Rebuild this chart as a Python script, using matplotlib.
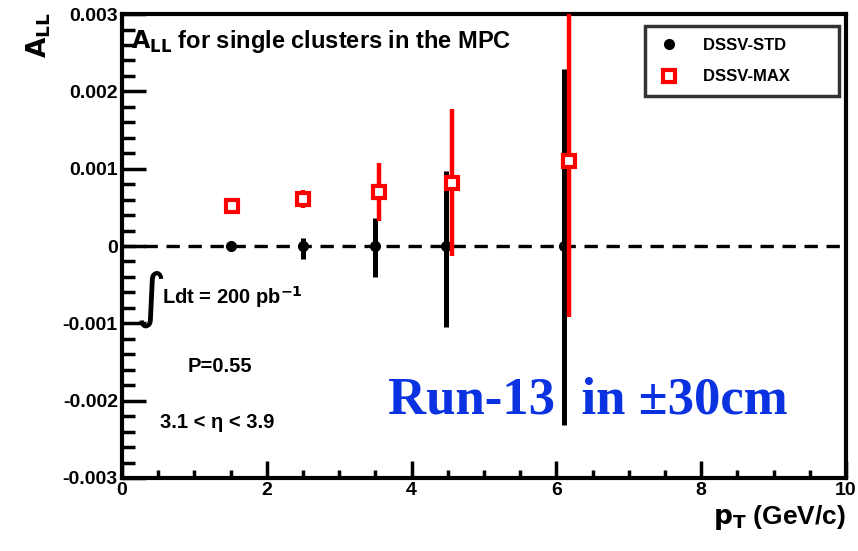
import numpy as np
import matplotlib
matplotlib.use("Agg")
import matplotlib.pyplot as plt
from matplotlib.ticker import MultipleLocator
from matplotlib.lines import Line2D

plt.rcParams['font.family'] = ['Liberation Sans', 'DejaVu Sans']
plt.rcParams['font.weight'] = 'bold'

# dados
pt_std = [1.5, 2.5, 3.5, 4.47, 6.1]
all_std = [0.0, 0.0, 0.0, 0.0, 0.0]
err_std_lo = [0.00002, 0.00017, 0.0004, 0.00105, 0.00232]
err_std_hi = [0.00002, 0.0001, 0.00036, 0.00097, 0.00229]

pt_max = [1.52, 2.5, 3.55, 4.56, 6.17]
all_max = [0.00052, 0.00061, 0.0007, 0.00082, 0.0011]
err_max = [0.00003, 0.00012, 0.00037, 0.00095, 0.00202]

fig = plt.figure(figsize=(8.58, 5.51), dpi=100)
ax = fig.add_axes([0.1422, 0.1325, 0.8438, 0.842])

ax.axhline(0, color='black', lw=2.4, ls=(0, (4, 2.6)), zorder=1)

ax.errorbar(pt_std, all_std, yerr=[err_std_lo, err_std_hi], fmt='o', color='black',
            ms=7, elinewidth=3.6, capsize=0, zorder=3)
ax.errorbar(pt_max, all_max, yerr=err_max, fmt='s', color='red', mfc='white', mec='red',
            ms=9, mew=3, elinewidth=3.2, capsize=0, zorder=4)

ax.set_xlim(0, 10)
ax.set_ylim(-0.003, 0.003)
ax.xaxis.set_minor_locator(MultipleLocator(0.5))
ax.yaxis.set_minor_locator(MultipleLocator(0.0002))
ax.set_yticks([-0.003, -0.002, -0.001, 0, 0.001, 0.002, 0.003])
ax.set_yticklabels(['-0.003', '-0.002', '-0.001', '0', '0.001', '0.002', '0.003'])
ax.set_xticks([0, 2, 4, 6, 8, 10])
ax.set_xticklabels(['0', '2', '4', '6', '8', '10'])

ax.tick_params(axis='both', which='both', direction='in', top=False, right=False,
               labelsize=14)
ax.tick_params(axis='y', which='major', length=17, width=2.5, pad=3)
ax.tick_params(axis='y', which='minor', length=9, width=2.5)
ax.tick_params(axis='x', which='major', length=12, width=2.5, pad=3)
ax.tick_params(axis='x', which='minor', length=6, width=2.5)
for s in ax.spines.values():
    s.set_linewidth(3)

fig.text(0.045, 0.978, r'$\mathbf{A_{LL}}$', rotation=90, fontsize=19, ha='center', va='top')
fig.text(0.986, 0.035, r'$\mathbf{p_{T}}$ (GeV/c)', fontsize=19, ha='right', va='bottom')

ax.text(0.013, 0.94, r'$\mathbf{A_{LL}}$ for single clusters in the MPC', transform=ax.transAxes,
        fontsize=17, ha='left', va='center')
ax.text(0.018, 0.385, r'$\int$', transform=ax.transAxes, fontsize=30, ha='left', va='center',
        fontweight='normal')
ax.text(0.055, 0.39, r'Ldt = 200 pb$^{\mathbf{-1}}$', transform=ax.transAxes,
        fontsize=14.5, ha='left', va='center')
ax.text(0.09, 0.24, 'P=0.55', transform=ax.transAxes, fontsize=14.5, ha='left', va='center')
ax.text(0.053, 0.12, '3.1 < η < 3.9', transform=ax.transAxes, fontsize=14.5,
        ha='left', va='center')
ax.text(0.92, 0.168, 'Run-13  in ±30cm', transform=ax.transAxes, fontsize=38,
        family='Liberation Serif', color='#0a32e0', ha='right', va='center')

# legenda sem barras de erro
handles = [Line2D([], [], ls='none', marker='o', color='black', ms=7),
           Line2D([], [], ls='none', marker='s', color='red', mfc='white', mec='red', ms=9, mew=3)]
leg = ax.legend(handles, ['DSSV-STD', 'DSSV-MAX'], loc='upper right',
                bbox_to_anchor=(0.99, 0.974), frameon=True,
                fancybox=False, fontsize=12, borderpad=0.7, labelspacing=1.0,
                handletextpad=1.3, handlelength=1.5, borderaxespad=0.0)
leg.get_frame().set_edgecolor('black')
leg.get_frame().set_linewidth(2.5)
for t in leg.get_texts():
    t.set_text(t.get_text() + '        ')

fig.savefig('out.png', dpi=100)
